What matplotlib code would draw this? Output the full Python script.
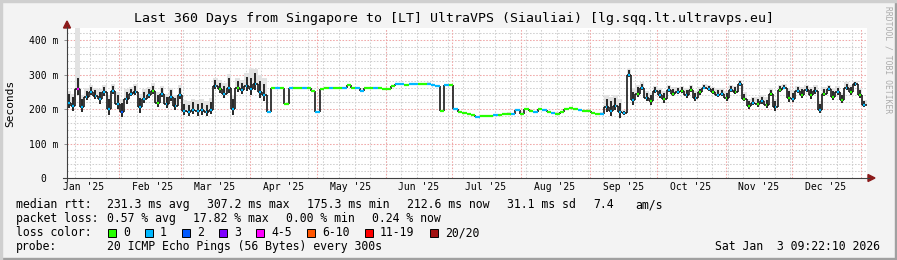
import matplotlib
matplotlib.use("Agg")
import matplotlib.pyplot as plt
import matplotlib.dates as mdates
from matplotlib.collections import LineCollection
from matplotlib.patches import Rectangle, Polygon
from datetime import datetime, timedelta

# time window shown by the graph
start = datetime(2025, 1, 8, 9, 22, 10)
end = datetime(2026, 1, 3, 9, 22, 10)
bin_days = 2

# median rtt (ms) per 2-day bin
median_ms = [
    218, 208, 258, 205, 235, 250, 238, 228, 248, 200,
    252, 215, 192, 228, 245, 250, 205, 230, 242, 252,
    218, 245, 215, 235, 210, 240, 195, 192, 198, 193,
    196, 192, 198, 268, 258, 245,
    262, 200, 262, 255, 268, 258, 272, 250, 240, 191,
    262, 261, 261, 215, 261, 261, 261, 262, 261, 252,
    190, 258, 261, 261, 261, 261, 261, 270, 261, 261,
    253, 260, 261, 262, 260, 259,
    259, 266, 272, 272, 271, 272, 273, 272, 272, 274,
    269, 268, 195, 271, 271, 200, 192, 188, 185, 183,
    177, 179, 180, 181, 182, 183, 185, 187, 185, 198,
    187, 199, 193, 190, 200, 196,
    192, 189, 187, 192, 200, 202, 201, 196, 193, 195,
    188, 186, 187, 205, 195, 210, 190, 188, 300, 225,
    245, 262, 232, 222, 252, 240, 228, 255, 245, 250,
    252, 240, 255, 232, 248, 262,
    258, 250, 242, 245, 232, 255, 250, 272, 230, 208,
    218, 215, 222, 212, 245, 205, 255, 262, 232, 230,
    252, 242, 255, 240, 252, 198, 245, 258, 235, 248,
    225, 262, 250, 272, 240, 212,
]

# loss class per bin (index into loss_labels)
loss_code = (
    "11411111" "11112111" "11100111" "11111111" "1101"
    "1101111111" "0100100100" "1001001001" "100100"
    "0011011001" "1101010000" "1000100011" "000101"
    "0100000100" "0011111111" "0110110101" "010101"
    "1011010100" "1010010101" "1010110101" "010101"
)

# height of the grey smoke above the median (ms)
smoke_ms = [
    35, 37, 180, 35, 25, 20, 24, 30, 22, 40, 20, 35, 38, 30, 20, 22, 40, 28,
    23, 23, 32, 23, 30, 27, 30, 30, 30, 30, 32, 32, 32, 30, 34, 22, 27, 30,
    40, 40, 28, 30, 37, 60, 45, 50, 50, 3, 3, 3, 3, 3, 3, 3, 3, 3,
    3, 3, 3, 3, 3, 3, 3, 3, 3, 3, 3, 3, 3, 3, 3, 3, 3, 3,
    3, 3, 3, 3, 3, 3, 3, 3, 3, 3, 3, 3, 3, 3, 3, 3, 3, 3,
    3, 3, 3, 3, 3, 3, 3, 3, 3, 3, 3, 3, 3, 3, 3, 3, 3, 3,
    3, 3, 3, 3, 3, 3, 3, 3, 3, 3, 3, 3, 3, 35, 40, 30, 40, 10,
    20, 35, 25, 15, 20, 25, 15, 20, 25, 15, 20, 15, 15, 20, 15, 20, 15, 10,
    12, 15, 18, 15, 20, 15, 18, 12, 20, 22, 18, 20, 18, 22, 15, 25, 15, 12,
    30, 25, 15, 22, 15, 25, 18, 25, 20, 12, 25, 18, 22, 15, 20, 10, 20, 15,
]

loss_labels = ["0", "1", "2", "3", "4-5", "6-10", "11-19", "20/20"]
loss_colors = ["#26ff00", "#00b8ff", "#0059ff", "#7e00ff",
               "#ff00ff", "#ff5500", "#ff0000", "#a01010"]

y_ticks = [0, 100, 200, 300, 400]
y_tick_labels = ["0  ", "100 m", "200 m", "300 m", "400 m"]
x_tick_labels = ["Jan '25", "Feb '25", "Mar '25", "Apr '25", "May '25", "Jun '25",
                 "Jul '25", "Aug '25", "Sep '25", "Oct '25", "Nov '25", "Dec '25"]

title = "Last 360 Days from Singapore to [LT] UltraVPS (Siauliai) [lg.sqq.lt.ultravps.eu]"
rtt_line = ["median rtt:", "231.3 ms avg", "307.2 ms max", "175.3 ms min",
            "212.6 ms now", "31.1 ms sd", "7.4"]
loss_line = ["packet loss:", "0.57 % avg", "17.82 % max", "0.00 % min", "0.24 % now"]
probe_text = "20 ICMP Echo Pings (56 Bytes) every 300s"
stamp = "Sat Jan  3 09:22:10 2026"

MONO = "DejaVu Sans Mono"
W, H = 897, 260


def fx(px):
    return px / W


def fy(py):
    return 1 - py / H


fig = plt.figure(figsize=(W / 100, H / 100), dpi=100, facecolor="#f3f3f3")
ax = fig.add_axes([fx(66.5), fy(178), 800 / W, 150 / H])
ax.set_facecolor("white")
for s in ax.spines.values():
    s.set_visible(False)

x0, x1 = mdates.date2num(start), mdates.date2num(end)
ax.set_xlim(x0, x1)
ax.set_ylim(0, 435)

# grid: 20 ms minor, 100 ms major; weekly minor, monthly major
minor_c, major_c = "#d0d0d0", "#f0a8a8"
dots = (0, (1.5, 1.5))
for v in range(20, 435, 20):
    ax.axhline(v, color=major_c if v % 100 == 0 else minor_c, lw=0.75, ls=dots, zorder=1)
d = datetime(2025, 1, 12)
while d < end:
    ax.axvline(mdates.date2num(d), color=minor_c, lw=0.75, ls=dots, zorder=1)
    d += timedelta(days=7)
month_starts = [datetime(2025, m, 1) for m in range(2, 13)] + [datetime(2026, 1, 1)]
for m in month_starts:
    ax.axvline(mdates.date2num(m), color=major_c, lw=0.75, ls=dots, zorder=1)

# data
n = len(median_ms)
xs = [mdates.date2num(start + timedelta(days=bin_days * i)) for i in range(n + 1)]
w = xs[1] - xs[0]
tops = [m + s for m, s in zip(median_ms, smoke_ms)]
ax.fill_between(xs, median_ms + [median_ms[-1]], tops + [tops[-1]], step="post",
                color="#e2e2e2", lw=0, zorder=2)

# dark smoke core where the pings are spread out
core = []
for i in range(n):
    s = min(smoke_ms[i], 45)
    if s > 5:
        xc = xs[i] + w * 0.5
        core.append([(xc, median_ms[i] - 0.4 * s), (xc, median_ms[i] + 0.7 * s)])
ax.add_collection(LineCollection(core, colors="#262626", lw=1.4, zorder=3))

verts = [[(xs[i + 1], median_ms[i]), (xs[i + 1], median_ms[i + 1])] for i in range(n - 1)]
ax.add_collection(LineCollection(verts, colors="#1a1a1a", lw=1.2, zorder=3))

horiz = []
bridge = []
for i in range(n):
    if smoke_ms[i] > 5:
        horiz.append([(xs[i] + 0.3 * w, median_ms[i]), (xs[i] + 0.7 * w, median_ms[i])])
        bridge.append([(xs[i], median_ms[i]), (xs[i + 1], median_ms[i])])
    else:
        horiz.append([(xs[i], median_ms[i]), (xs[i + 1], median_ms[i])])
ax.add_collection(LineCollection(bridge, colors="#1a1a1a", lw=1.2, zorder=3))
ax.add_collection(LineCollection(horiz, colors=[loss_colors[int(c)] for c in loss_code],
                                 lw=1.6, zorder=4))

# ticks
ax.set_yticks(y_ticks)
ax.set_yticklabels(y_tick_labels, family=MONO, fontsize=7)
ax.tick_params(axis="y", length=2, width=0.7, color="#909090", pad=4)
label_pos = [mdates.date2num(datetime(2025, m, 1) + timedelta(days=15)) for m in range(1, 13)]
ax.set_xticks(label_pos)
ax.set_xticklabels(x_tick_labels, family=MONO, fontsize=7)
ax.tick_params(axis="x", length=0, pad=3)

# axis lines with arrows
axis_c, arrow_c = "#404040", "#8b1a1a"
fig.add_artist(plt.Line2D([fx(63), fx(869)], [fy(178), fy(178)], color=axis_c, lw=0.8))
fig.add_artist(plt.Line2D([fx(67), fx(67)], [fy(181), fy(27)], color=axis_c, lw=0.8))
fig.add_artist(Polygon([(fx(868), fy(174.5)), (fx(868), fy(181.5)), (fx(875), fy(178))],
                       closed=True, color=arrow_c, transform=fig.transFigure))
fig.add_artist(Polygon([(fx(63.5), fy(28)), (fx(70.5), fy(28)), (fx(67), fy(21))],
                       closed=True, color=arrow_c, transform=fig.transFigure))

# texts
fig.text(fx(454), fy(22), title, ha="center", va="baseline", family=MONO, fontsize=9.5)
fig.text(fx(10), fy(103), "Seconds", rotation=90, ha="center", va="center",
         family=MONO, fontsize=8)
fig.text(fx(888), fy(60), "RRDTOOL / TOBI OETIKER", rotation=270, ha="center",
         va="center", family=MONO, fontsize=5.8, color="#ababab")

cw, gap, fs = 7.0, 16, 8.3


def put_row(pieces, y):
    x = 16
    for k, p in enumerate(pieces):
        if k == 1:
            x = 107
        fig.text(fx(x), fy(y), p, ha="left", va="baseline", family=MONO, fontsize=fs)
        x += len(p) * cw + gap
    return x


end_x = put_row(rtt_line, 208)
fig.text(fx(end_x - gap + 21), fy(208), "am/s", ha="left", va="baseline", family=MONO, fontsize=fs)
put_row(loss_line, 222)

fig.text(fx(16), fy(236), "loss color:", ha="left", va="baseline", family=MONO, fontsize=fs)
sx = 108
for lab, col in zip(loss_labels, loss_colors):
    fig.add_artist(Rectangle((fx(sx), fy(237)), 8 / W, 8 / H, facecolor=col,
                             edgecolor="black", lw=0.7, transform=fig.transFigure))
    fig.text(fx(sx + 15), fy(236), lab, ha="left", va="baseline", family=MONO, fontsize=fs)
    sx += 30 + len(lab) * cw

fig.text(fx(16), fy(250), "probe:", ha="left", va="baseline", family=MONO, fontsize=fs)
fig.text(fx(107), fy(250), probe_text, ha="left", va="baseline", family=MONO, fontsize=fs)
fig.text(fx(880), fy(250), stamp, ha="right", va="baseline", family=MONO, fontsize=fs)

# frame
fig.add_artist(Rectangle((0, 0), 1, 2 / H, color="#a0a0a0", transform=fig.transFigure))
fig.add_artist(Rectangle((1 - 2 / W, 0), 2 / W, 1, color="#a0a0a0", transform=fig.transFigure))
fig.add_artist(Rectangle((0, 0), 1.5 / W, 1, color="#cfcfcf", transform=fig.transFigure))
fig.add_artist(Rectangle((0, 1 - 1.5 / H), 1, 1.5 / H, color="#cfcfcf", transform=fig.transFigure))

fig.savefig("out.png", dpi=100, facecolor=fig.get_facecolor())
